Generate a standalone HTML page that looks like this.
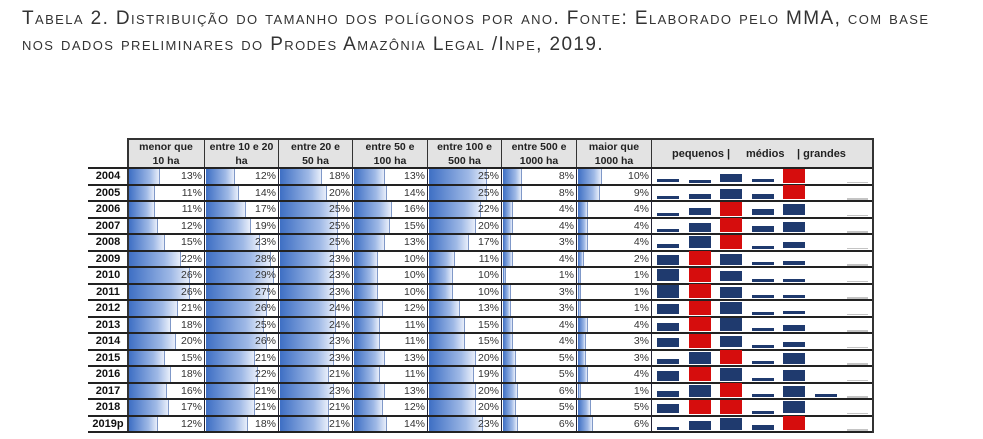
<!DOCTYPE html>
<html><head><meta charset="utf-8">
<style>
body{margin:0;width:983px;height:439px;background:#fff;position:relative;overflow:hidden;font-family:"Liberation Sans",sans-serif;}
.t{position:absolute;left:22px;font-size:19px;font-variant:small-caps;color:#333;white-space:nowrap;letter-spacing:1.4px}
.c{position:absolute;box-sizing:border-box;}
.h{background:#e3e3e3;font-size:10.5px;font-weight:bold;text-align:center;line-height:14px;color:#222;border-right:1.5px solid #333;}
.y{font-size:11px;font-weight:bold;text-align:center;color:#111}
.v{font-size:10.5px;text-align:right;color:#333;padding-right:2px;border-right:1.5px solid #223;}
.b{position:absolute;left:1px;top:1px;bottom:1px;background:linear-gradient(to right,#3e6fc4,#9fb9e6 70%,#e8eefa);border-right:1px solid #7f98c8}
.hl{position:absolute;left:88px;width:785px;height:2px;background:#222}
</style></head><body>
<div class="t" style="top:8px">Tabela 2. Distribuição do tamanho dos polígonos por ano. Fonte: Elaborado pelo MMA, com base</div>
<div class="t" style="top:34px">nos dados preliminares do Prodes Amazônia Legal /Inpe, 2019.</div>
<div id="tb"></div>
<script>
var d=[["2004",13,12,18,13,25,8,10],["2005",11,14,20,14,25,8,9],["2006",11,17,25,16,22,4,4],["2007",12,19,25,15,20,4,4],["2008",15,23,25,13,17,3,4],["2009",22,28,23,10,11,4,2],["2010",26,29,23,10,10,1,1],["2011",26,27,23,10,10,3,1],["2012",21,26,24,12,13,3,1],["2013",18,25,24,11,15,4,4],["2014",20,26,23,11,15,4,3],["2015",15,21,23,13,20,5,3],["2016",18,22,21,11,19,5,4],["2017",16,21,23,13,20,6,1],["2018",17,21,21,12,20,5,5],["2019p",12,18,21,14,23,6,6]];
var xs=[128,205,279,353,428,502,577,652,873];
var hd=["menor que<br>10 ha","entre 10 e 20<br>ha","entre 20 e<br>50 ha","entre 50 e<br>100 ha","entre 100 e<br>500 ha","entre 500 e<br>1000 ha","maior que<br>1000 ha"];
var h="";
for(var i=0;i<7;i++)h+='<div class="c h" style="left:'+xs[i]+'px;top:139px;width:'+(xs[i+1]-xs[i])+'px;height:30px;padding-top:1px">'+hd[i]+'</div>';
h+='<div class="c h" style="left:652px;top:139px;width:221px;height:30px;"></div>';
h+='<div class="c" style="left:672px;top:139px;height:30px;line-height:30px;font-size:11px;font-weight:bold;color:#222;white-space:nowrap">pequenos |</div>';
h+='<div class="c" style="left:746px;top:139px;height:30px;line-height:30px;font-size:11px;font-weight:bold;color:#222;white-space:nowrap">médios</div>';
h+='<div class="c" style="left:797px;top:139px;height:30px;line-height:30px;font-size:11px;font-weight:bold;color:#222;white-space:nowrap">| grandes</div>';
h+='<div class="c" style="left:128px;top:138px;width:745px;height:2px;background:#333"></div>';
h+='<div class="c" style="left:127px;top:138px;width:2px;height:295px;background:#333"></div>';
var rh=16.5;
for(var r=0;r<16;r++){var y=168+r*rh,row=d[r];
h+='<div class="hl" style="top:'+(y-1)+'px"></div>';
h+='<div class="c y" style="left:88px;top:'+y+'px;width:40px;height:'+rh+'px;line-height:'+rh+'px">'+row[0]+'</div>';
for(var i=0;i<7;i++){var w=xs[i+1]-xs[i];h+='<div class="c v" style="left:'+xs[i]+'px;top:'+y+'px;width:'+w+'px;height:'+rh+'px;line-height:'+(rh+1)+'px"><div class="b" style="width:'+Math.round(row[i+1]*2.3)+'px"></div><span style="position:relative">'+row[i+1]+'%</span></div>';}
var vals=row.slice(1,6),mx=Math.max.apply(null,vals),mn=Math.min.apply(null,vals);
for(var k=0;k<5;k++){var v=row[k+1];var bh=3+(v-mn)/(mx-mn||1)*11;var col=(v==mx)?"#d60d0d":"#1f3a6e";
h+='<div class="c" style="left:'+(657+k*31.6)+'px;top:'+(y+rh-2-bh)+'px;width:22px;height:'+bh+'px;background:'+col+'"></div>';}
if(row[0]=="2017")h+='<div class="c" style="left:815px;top:'+(y+rh-5)+'px;width:22px;height:3px;background:#1f3a6e"></div>';
h+='<div class="c" style="left:847px;top:'+(y+rh-3)+'px;width:21px;height:1.5px;background:#c4c4c4"></div>';
}
h+='<div class="hl" style="top:'+(168+16*rh-1)+'px"></div>';
h+='<div class="c" style="left:872px;top:138px;width:1.5px;height:295px;background:#333"></div>';
document.getElementById("tb").innerHTML=h;
</script>
</body></html>
